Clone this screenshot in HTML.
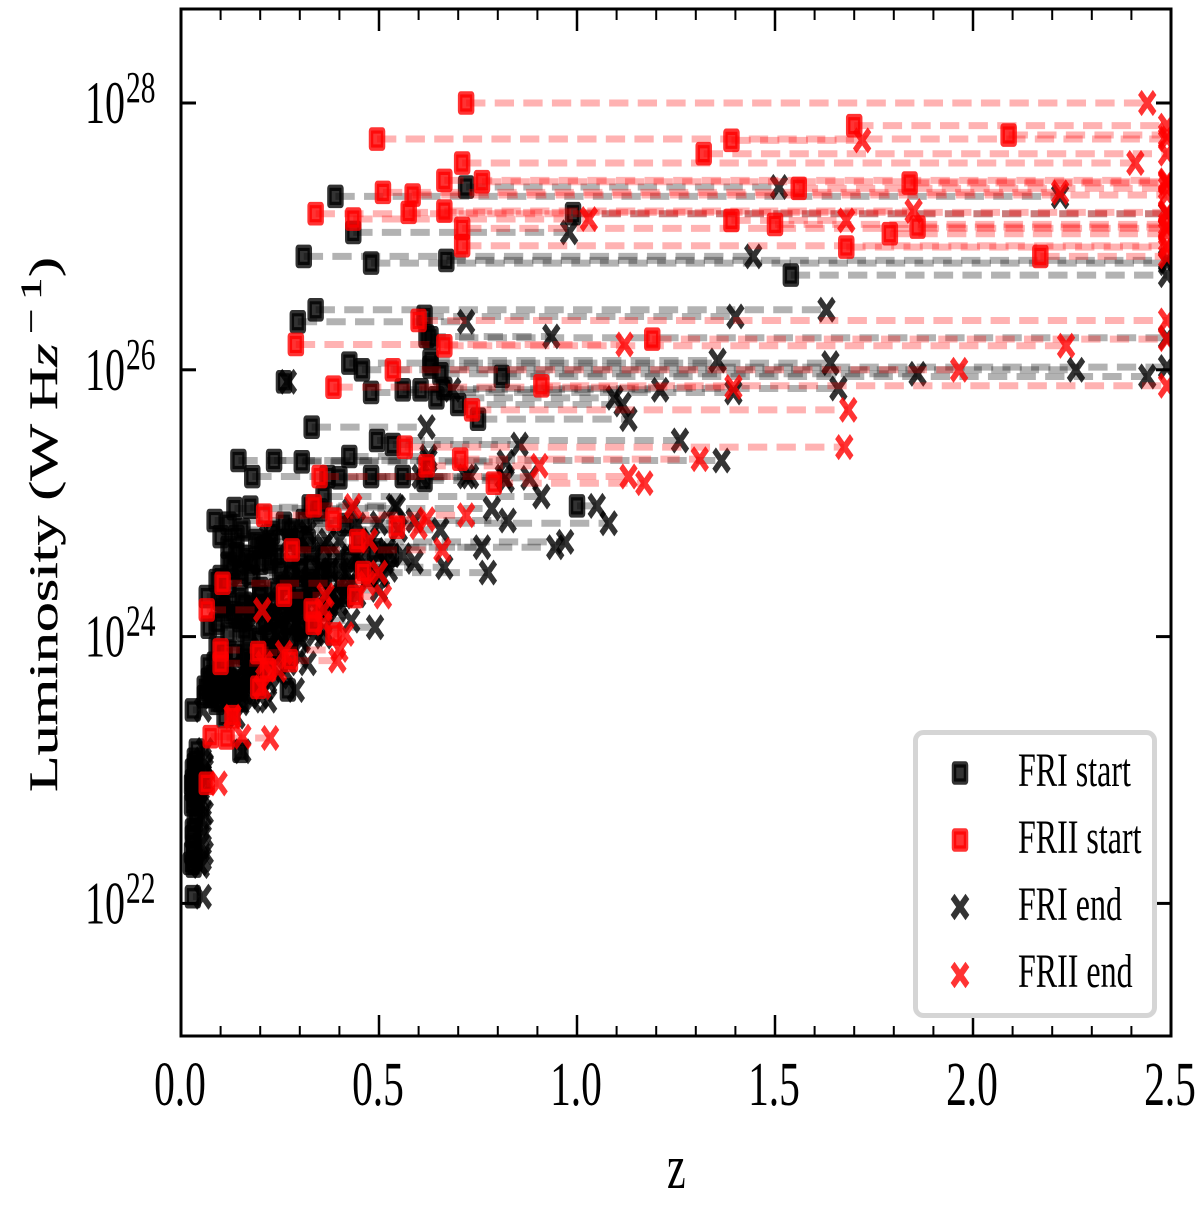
<!DOCTYPE html>
<html lang="en">
<head>
<meta charset="utf-8">
<title>Luminosity vs redshift</title>
<style>
html,body{margin:0;padding:0;background:#fff;}
#chart{display:block;width:1200px;height:1205px;}
text{font-family:"Liberation Serif","DejaVu Serif",serif;fill:#000;}
</style>
</head>
<body>
<svg id="chart" xmlns="http://www.w3.org/2000/svg" width="1200" height="1205" viewBox="0 0 1200 1205">
  <defs><clipPath id="plot-clip"><rect x="181" y="9" width="990" height="1027"/></clipPath></defs>
  <rect x="0" y="0" width="1200" height="1205" fill="#fff"/>
  <g id="marks" clip-path="url(#plot-clip)"></g>
  <g id="axes"></g>
  <g stroke="#000" stroke-width=".35">
    <text transform="translate(57,792) rotate(-90) scale(1.5,1)" font-size="40" textLength="299" lengthAdjust="spacingAndGlyphs">Luminosity (W H<tspan font-style="italic">z</tspan></text>
    <text transform="translate(41,334) rotate(-90) scale(1.5,1)" font-size="30">−</text>
    <text transform="translate(41,300) rotate(-90) scale(1.5,1)" font-size="30">1</text>
    <text transform="translate(57,277) rotate(-90) scale(1.5,1)" font-size="40">)</text>
  </g>
  <text transform="translate(667,1188) scale(1,1.5)" font-size="42">z</text>
  <g>
    <rect x="915.5" y="732.5" width="239" height="283" rx="8" fill="#fff" stroke="#d5d5d5" stroke-width="5"/>
    <g>
      <rect transform="translate(960,773) scale(1,1.43)" x="-6" y="-6" width="12" height="12" rx=".5" fill="#000" fill-opacity=".8" stroke="#000" stroke-opacity=".8" stroke-width="4.5" stroke-linejoin="round"/>
      <text transform="translate(1018,786) scale(1,1.5)" font-size="32">FRI start</text>
    </g>
    <g>
      <rect transform="translate(960,840) scale(1,1.43)" x="-6" y="-6" width="12" height="12" rx=".5" fill="#f00" fill-opacity=".8" stroke="#f00" stroke-opacity=".8" stroke-width="4.5" stroke-linejoin="round"/>
      <text transform="translate(1018,853) scale(1,1.5)" font-size="32">FRII start</text>
    </g>
    <g>
      <path transform="translate(960,907) scale(1,1.43)" d="M-7.4 -7.4L7.4 7.4M-7.4 7.4L7.4 -7.4" fill="none" stroke="#000" stroke-opacity=".8" stroke-width="5.4"/>
      <text transform="translate(1018,920) scale(1,1.5)" font-size="32">FRI end</text>
    </g>
    <g>
      <path transform="translate(960,975) scale(1,1.43)" d="M-7.4 -7.4L7.4 7.4M-7.4 7.4L7.4 -7.4" fill="none" stroke="#f00" stroke-opacity=".8" stroke-width="5.4"/>
      <text transform="translate(1018,987) scale(1,1.5)" font-size="32">FRII end</text>
    </g>
  </g>
</svg>
<script>
const xMajorTicks = [0.0, 0.5, 1.0, 1.5, 2.0, 2.5];
const xMajorLabels = ["0.0", "0.5", "1.0", "1.5", "2.0", "2.5"];
const xMinorTicks = [0.1,0.2,0.3,0.4,0.6,0.7,0.8,0.9,1.1,1.2,1.3,1.4,1.6,1.7,1.8,1.9,2.1,2.2,2.3,2.4];
const yMajorTicks = [22, 24, 26, 28];

/* FRI sources: start redshift, end redshift, log10 luminosity (ten values per row) */
const friStartZ = [
.39,.72,.99,.435,.31,.48,.67,1.54,.34,.295,
.615,.62,.63,.425,.457,.63,.48,.56,.605,.645,
.70,.75,.81,.26,.655,.63,.665,.33,.495,.535,
.145,.425,.235,.305,.18,.40,.37,.48,.56,.615,
.36,.135,1.0,.175,.085,.26,.31,.12,.155,.12,
.21,.225,.18,.13,.225,.15,.09,.275,.35,.325,
.065,.07,.15,.11,.20,.18,.24,.30,.22,.085,
.10,.14,.16,.20,.24,.30,.33,.36,.28,.18,
.12,.15,.20,.26,.30,.10,.13,.18,.23,.28,
.09,.12,.16,.20,.25,.09,.11,.14,.18,.07,
.08,.10,.13,.17,.06,.08,.10,.14,.20,.22,
.085,.11,.075,.09,.12,.15,.27,.07,.12,.16,
.14,.17,.21,.24,.27,.20,.25,.29,.33,.36,
.19,.23,.28,.32,.12,.14,.10,.105,.30,.16,
.03,.11,.15,.04,.035,.035,.03,.04,.03,.028,
.03,.035,.035,.028,.04,.035,.03,.03,.033,.028,
.035,.032,.03,.025,
.415,.45,.49,.53,.425,.375,.325,.475,.415,.365,
.31,.275,.225,.175,.15,.30,.25,.07,.09,.11,
.12,.06];
const friEndZ = [
2.22,1.51,2.49,.98,1.445,2.49,2.49,2.49,1.63,.72,
1.40,.935,2.49,1.64,2.26,1.355,1.395,1.21,.685,1.095,
1.115,1.13,2.44,.27,1.86,2.49,1.66,.62,1.26,.855,
1.365,.625,.625,.82,.815,.88,.605,.72,.73,.82,
.91,.785,1.05,.545,.825,1.08,.59,.50,.655,.76,
.945,.97,.59,.665,.515,.775,.43,.55,.43,.54,
.38,.49,.43,.375,.41,.36,.50,.525,.36,.32,
.30,.33,.40,.36,.44,.50,.46,.50,.42,.30,
.27,.36,.32,.40,.38,.25,.24,.31,.33,.36,
.22,.24,.28,.30,.34,.20,.22,.24,.27,.16,
.17,.19,.22,.25,.13,.15,.18,.21,.26,.30,
.19,.17,.13,.15,.20,.22,.29,.11,.20,.20,
.19,.25,.29,.30,.33,.28,.35,.40,.42,.45,
.27,.32,.37,.40,.17,.22,.15,.19,.36,.20,
.055,.14,.155,.06,.055,.06,.06,.055,.06,.05,
.045,.055,.05,.05,.06,.055,.055,.05,.05,.06,
.055,.05,.055,.045,
.445,.48,.52,.56,.455,.405,.355,.505,.445,.395,
.34,.305,.255,.205,.18,.33,.28,.12,.13,.16,
.17,.10];
const friLogL = [
27.30,27.37,27.17,27.03,26.85,26.80,26.82,26.71,26.45,26.36,
26.40,26.25,26.24,26.05,26.00,26.07,25.83,25.85,25.85,25.79,
25.74,25.63,25.95,25.91,25.97,26.02,25.86,25.57,25.47,25.44,
25.32,25.35,25.32,25.31,25.20,25.19,25.20,25.20,25.20,25.17,
25.05,24.96,24.98,24.97,24.87,24.85,24.87,24.85,24.80,24.67,
24.67,24.71,24.56,24.52,24.56,24.48,24.42,24.80,24.95,24.98,
24.30,24.07,24.12,24.24,24.30,24.20,24.35,24.50,24.00,23.80,
24.75,24.62,24.60,24.68,24.60,24.62,24.52,24.46,24.47,24.45,
24.38,24.30,24.36,24.40,24.33,24.28,24.18,24.22,24.15,24.20,
24.10,24.02,24.05,23.98,24.02,23.92,23.85,23.88,23.80,23.78,
23.70,23.72,23.66,23.70,23.62,23.58,23.52,23.60,23.75,23.85,
23.65,23.62,23.55,23.50,23.55,23.52,23.60,23.68,23.75,23.85,
24.15,24.00,24.10,24.25,24.10,24.55,24.50,24.25,24.38,24.60,
24.72,24.78,24.72,24.72,24.55,24.75,24.45,24.20,24.05,24.25,
23.45,23.40,23.14,23.15,23.08,23.04,23.00,22.96,22.92,22.89,
22.85,22.81,22.78,22.74,22.68,22.62,22.55,22.50,22.44,22.38,
22.33,22.28,22.05,22.30,
24.84,24.72,24.65,24.61,24.57,24.50,24.42,24.46,24.31,24.20,
24.09,23.97,23.90,23.82,23.67,24.27,24.16,23.60,23.62,23.58,
23.68,23.55];

/* FRII sources: start redshift, end redshift, log10 luminosity (ten values per row) */
const friiStartZ = [
.72,.495,1.70,2.09,1.39,1.32,.71,.665,.76,1.56,
1.84,.51,.585,.575,.34,.435,.665,1.39,.71,1.50,
1.86,1.79,.71,1.68,2.17,.60,.29,1.19,.665,.535,
.385,.91,.735,.565,.705,.35,.79,.62,.21,.335,
.28,.385,.105,.065,.10,.275,.385,.075,.115,.13,
.065,.195,.10,.195,.22,.26,.46,.44,.445,.335,
.33,.545];
const friiEndZ = [
2.44,2.49,2.49,2.49,1.72,2.49,2.41,2.49,2.49,2.49,
2.49,2.22,2.49,2.49,2.49,1.03,1.85,1.68,2.49,2.49,
2.49,2.49,2.49,2.49,2.49,2.49,1.12,2.49,2.235,1.965,
1.395,2.49,1.685,1.675,1.31,1.13,1.17,.905,.72,.435,
.66,.62,.47,.205,.40,.395,.415,.155,.225,.13,
.095,.26,.21,.205,.245,.365,.50,.51,.475,.36,
.36,.60];
const friiLogL = [
28.0,27.73,27.83,27.76,27.72,27.62,27.55,27.42,27.41,27.36,
27.40,27.33,27.31,27.18,27.17,27.13,27.19,27.12,27.06,27.09,
27.07,27.02,26.93,26.92,26.85,26.37,26.19,26.23,26.18,26.0,
25.87,25.88,25.70,25.42,25.33,25.20,25.15,25.28,24.91,24.98,
24.65,24.88,24.40,24.20,23.90,23.82,24.02,23.25,23.24,23.40,
22.90,23.88,23.80,23.62,23.75,24.31,24.48,24.30,24.72,24.10,
24.20,24.82];

const SVG_NS = 'http://www.w3.org/2000/svg';
const xScale = z => 181 + (z / 2.5) * 990;
const yScale = l => 103 + (28 - l) * 133.4;
const marks = document.getElementById('marks');
const axes = document.getElementById('axes');

function make(tag, attrs, parent) {
  const el = document.createElementNS(SVG_NS, tag);
  for (const k in attrs) el.setAttribute(k, attrs[k]);
  parent.appendChild(el);
  return el;
}

function drawSeries(starts, ends, lums, color) {
  for (let i = 0; i < starts.length; i++) {
    const y = yScale(lums[i]);
    const x0 = xScale(starts[i]);
    const x1 = xScale(ends[i]);
    const sq = make('rect', {transform: 'translate(' + x0 + ',' + y + ') scale(1,1.43)', x: -6, y: -6, width: 12, height: 12, rx: .5, fill: color, 'fill-opacity': .8, stroke: color, 'stroke-opacity': .8, 'stroke-width': 4.5, 'stroke-linejoin': 'round'}, marks);
    
    
    const cross = make('path', {transform: 'translate(' + x1 + ',' + y + ') scale(1,1.43)', d: 'M-7.4 -7.4L7.4 7.4M-7.4 7.4L7.4 -7.4', fill: 'none', stroke: color, 'stroke-opacity': .8, 'stroke-width': 5}, marks);
    
    
    const line = make('line', {x1: x0, x2: x1, y1: y, y2: y, stroke: color, 'stroke-opacity': .3, 'stroke-width': 7, 'stroke-dasharray': '19.3 9.3'}, marks);
    
    
  }
}
drawSeries(friStartZ, friEndZ, friLogL, '#000');
drawSeries(friiStartZ, friiEndZ, friiLogL, '#f00');

function tick(x1, y1, x2, y2, w) {
  const t = make('line', {x1: x1, y1: y1, x2: x2, y2: y2, stroke: '#000', 'stroke-width': w}, axes);
  
  
}
xMinorTicks.forEach(v => {
  const x = xScale(v);
  tick(x, 1036, x, 1026, 2);
  tick(x, 9, x, 20, 2);
});
xMajorTicks.forEach((v, i) => {
  const x = xScale(v);
  tick(x, 1036, x, 1015, 2.5);
  tick(x, 9, x, 31, 2.5);
  const label = make('text', {transform: 'translate(' + (x - 1) + ',1105) scale(1,1.5)', 'font-size': 41.5, 'text-anchor': 'middle'}, axes);
  label.textContent = xMajorLabels[i];
  
  
});
yMajorTicks.forEach(v => {
  const y = yScale(v);
  tick(181, y, 196, y, 3);
  tick(1171, y, 1156, y, 3);
  const base = make('text', {transform: 'translate(85,' + (y + 20) + ') scale(1,1.5)', 'font-size': 40}, axes);
  base.textContent = '10';
  
  
  const sup = make('text', {transform: 'translate(126,' + (y - 1) + ') scale(1,1.5)', 'font-size': 29.5}, axes);
  sup.textContent = String(v);
  
  
});
const frame = make('rect', {x: 181, y: 9, width: 990, height: 1027, fill: 'none', stroke: '#000', 'stroke-width': 3}, axes);


</script>
</body>
</html>
